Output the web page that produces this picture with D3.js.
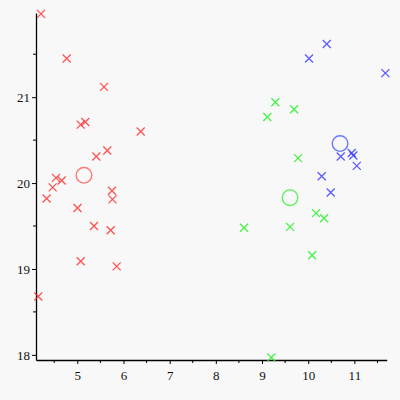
<!DOCTYPE html>
<html>
<head>
<meta charset="utf-8">
<script src="https://cdn.jsdelivr.net/npm/d3@7"></script>
<style>
  html, body { margin: 0; padding: 0; background: #f8f8f8; }
  svg { display: block; }
</style>
</head>
<body>
<script>
// --- data ---
const redX = [4.214,4.771,5.578,5.074,5.173,6.373,5.412,5.650,4.539,4.662,4.467,4.336,5.751,5.762,5.004,5.362,5.723,5.074,5.853,4.155];
const redY = [21.97,21.45,21.12,20.68,20.71,20.60,20.31,20.38,20.06,20.03,19.95,19.82,19.91,19.81,19.71,19.50,19.45,19.09,19.03,18.68];
const greenX = [9.288,9.694,9.115,9.780,8.610,9.607,10.170,10.344,10.084,9.202];
const greenY = [20.94,20.86,20.77,20.29,19.48,19.49,19.65,19.59,19.16,17.97];
const blueX = [10.402,10.018,11.671,10.705,10.943,10.978,11.052,10.293,10.488];
const blueY = [21.62,21.45,21.28,20.31,20.35,20.32,20.20,20.08,19.89];
const centerX = [5.145, 9.607, 10.690];
const centerY = [20.09, 19.83, 20.46];
const xTicks = [5,6,7,8,9,10,11];
const yTicks = [18,19,20,21];
const xMinor = [4.5,5.5,6.5,7.5,8.5,9.5,10.5,11.5];
const yMinor = [18.5,19.5,20.5,21.5];

const W = 400, H = 400;
const svg = d3.select("body").append("svg").attr("width", W).attr("height", H);
svg.append("rect").attr("width", W).attr("height", H).attr("fill", "#f8f8f8");

const x = d3.scaleLinear().domain([4.106, 11.70]).range([36, 386.7]);
const y = d3.scaleLinear().domain([17.94, 21.98]).range([360, 13]);

// axes
const xAxis = d3.axisBottom(x).tickValues(xTicks).tickFormat(d3.format("d")).tickSize(4).tickSizeOuter(0);
const yAxis = d3.axisLeft(y).tickValues(yTicks).tickFormat(d3.format("d")).tickSize(4).tickSizeOuter(0);

const gx = svg.append("g").attr("transform", "translate(0,360)").call(xAxis);
const gy = svg.append("g").attr("transform", "translate(36,0)").call(yAxis);
[gx, gy].forEach(g => {
  g.select(".domain").attr("stroke", "#000").attr("stroke-width", 1.3);
  g.selectAll(".tick line").attr("stroke", "#000").attr("stroke-width", 1);
  g.selectAll(".tick text").attr("fill", "#111")
    .style("font-family", "'Liberation Serif', 'DejaVu Serif', serif").style("font-size", "13px");
});
gx.selectAll(".tick text").attr("dy", "1.0em");
gy.selectAll(".tick text").attr("x", -6);

// minor ticks
svg.append("g").selectAll("line").data(xMinor).join("line")
  .attr("x1", d => x(d)).attr("x2", d => x(d)).attr("y1", 360).attr("y2", 363)
  .attr("stroke", "#000");
svg.append("g").selectAll("line").data(yMinor).join("line")
  .attr("y1", d => y(d)).attr("y2", d => y(d)).attr("x1", 36).attr("x2", 33)
  .attr("stroke", "#000");

function crosses(xs, ys, color) {
  const s = 4;
  const g = svg.append("g").attr("stroke", color).attr("stroke-width", 1.3).attr("fill", "none");
  const pts = xs.map((v, i) => [v, ys[i]]);
  g.selectAll("path").data(pts).join("path")
    .attr("d", d => {
      const cx = x(d[0]), cy = y(d[1]);
      return `M${cx-s},${cy-s}L${cx+s},${cy+s}M${cx-s},${cy+s}L${cx+s},${cy-s}`;
    });
}
crosses(redX, redY, "rgba(255,40,40,0.8)");
crosses(greenX, greenY, "rgba(40,240,40,0.85)");
crosses(blueX, blueY, "rgba(50,50,255,0.8)");

const cColors = ["rgba(255,90,90,0.8)", "rgba(70,240,70,0.85)", "rgba(70,90,255,0.8)"];
svg.append("g").selectAll("circle").data(centerX.map((v, i) => [v, centerY[i], cColors[i]])).join("circle")
  .attr("cx", d => x(d[0])).attr("cy", d => y(d[1])).attr("r", 7.8)
  .attr("fill", "none").attr("stroke", d => d[2]).attr("stroke-width", 1.4);
</script>
</body>
</html>
